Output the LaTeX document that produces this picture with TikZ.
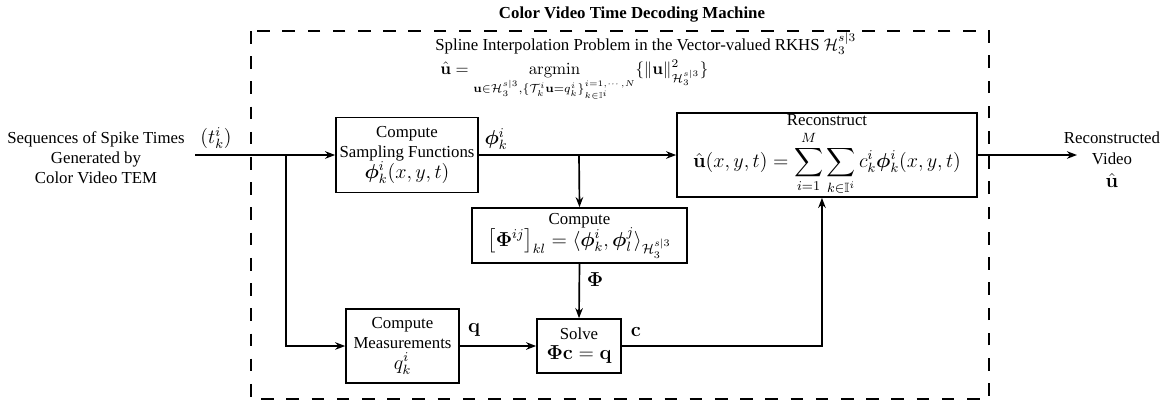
\documentclass[tikz,border=0pt]{standalone}
\usepackage{amsmath,amssymb,bm}
\usepackage[no-math]{fontspec}
\setmainfont{Liberation Serif}
\usetikzlibrary{arrows.meta}

\begin{document}
\begin{tikzpicture}[x=0.595pt,y=-0.595pt,
  blk/.style={draw,line width=1pt,align=center,inner sep=1pt},
  flow/.style={line width=1pt,-{Stealth[length=6pt,width=4.5pt]}},
  lbl/.style={inner sep=0pt},
  frame/.style={line width=1pt,dash pattern=on 7.5pt off 7.5pt}]
\useasboundingbox (0,0) rectangle (1171,402);

% decoder boundary and its heading
\draw[frame] (251,31) rectangle (989,399);
\node[lbl,font=\bfseries] (title) at (632,15) {Color Video Time Decoding Machine};

% optimisation problem solved by the decoder
\node[lbl,anchor=base west] (prob) at (435,50)
  {Spline Interpolation Problem in the Vector-valued RKHS $\mathcal{H}_3^{s|3}$};
\node[lbl,anchor=base west] (argmin) at (440,74)
  {$\displaystyle\hat{\mathbf{u}}=\operatorname*{argmin}_{\mathbf{u}\in\mathcal{H}_3^{s|3},\{\mathcal{T}_k^i\mathbf{u}=q_k^i\}_{k\in\mathbb{I}^i}^{i=1,\cdots,N}}\{\|\mathbf{u}\|^2_{\mathcal{H}_3^{s|3}}\}$};

% processing blocks
\node[blk,minimum width=84.5pt,minimum height=44.6pt] (samp) at (407,155)
  {Compute\\Sampling Functions\\{\large$\bm{\phi}_k^i(x,y,t)$}};
\node[blk,minimum width=127.9pt,minimum height=32.7pt] (gram) at (579.5,235.5)
  {Compute\\[-1pt]{\large$\bigl[\mathbf{\Phi}^{ij}\bigr]_{kl}=\langle\bm{\phi}_k^i,\bm{\phi}_l^j\rangle_{\mathcal{H}_3^{s|3}}$}};
\node[blk,minimum width=178.5pt,minimum height=50pt] (recon) at (827,155)
  {Reconstruct\\[2pt]{\large$\displaystyle\hat{\mathbf{u}}(x,y,t)=\sum_{i=1}^{M}\sum_{k\in\mathbb{I}^i}c_k^i\bm{\phi}_k^i(x,y,t)$}};
\node[blk,minimum width=67.2pt,minimum height=44pt] (meas) at (402.5,346)
  {Compute\\Measurements\\{\large$q_k^i$}};
\node[blk,minimum width=50pt,minimum height=32.1pt] (solve) at (579,346)
  {Solve\\{\large$\mathbf{\Phi}\mathbf{c}=\mathbf{q}$}};

% input and output descriptions
\node[lbl,align=center] (spikes) at (96,158)
  {Sequences of Spike Times\\Generated by\\Color Video TEM};
\node[lbl,align=center] (video) at (1112,160)
  {Reconstructed\\Video\\[2pt]{\large$\hat{\mathbf{u}}$}};

% branch points
\coordinate (src) at (195,155);
\coordinate (tap) at (286,155);
\coordinate (split) at (579,155);
\coordinate (dst) at (1077,155);

% signal flow
\draw[flow] (src) -- (samp.west);
\draw[flow] (tap) |- (meas.west);
\draw[flow] (samp.east) -- (recon.west);
\draw[flow] (split) -- (gram.north);
\draw[flow] (gram.south) -- (solve.north);
\draw[flow] (meas.east) -- (solve.west);
\draw[flow] (solve.east) -| ([xshift=-3pt]recon.south);
\draw[flow] (recon.east) -- (dst);

% signal labels
\node[lbl] (tlab) at (216,138) {\large$(t_k^i)$};
\node[lbl] (philab) at (496,139) {\large$\bm{\phi}_k^i$};
\node[lbl] (Philab) at (595,280) {\large$\mathbf{\Phi}$};
\node[lbl] (qlab) at (474,330) {\large$\mathbf{q}$};
\node[lbl] (clab) at (636,332) {\large$\mathbf{c}$};
\end{tikzpicture}
\end{document}
